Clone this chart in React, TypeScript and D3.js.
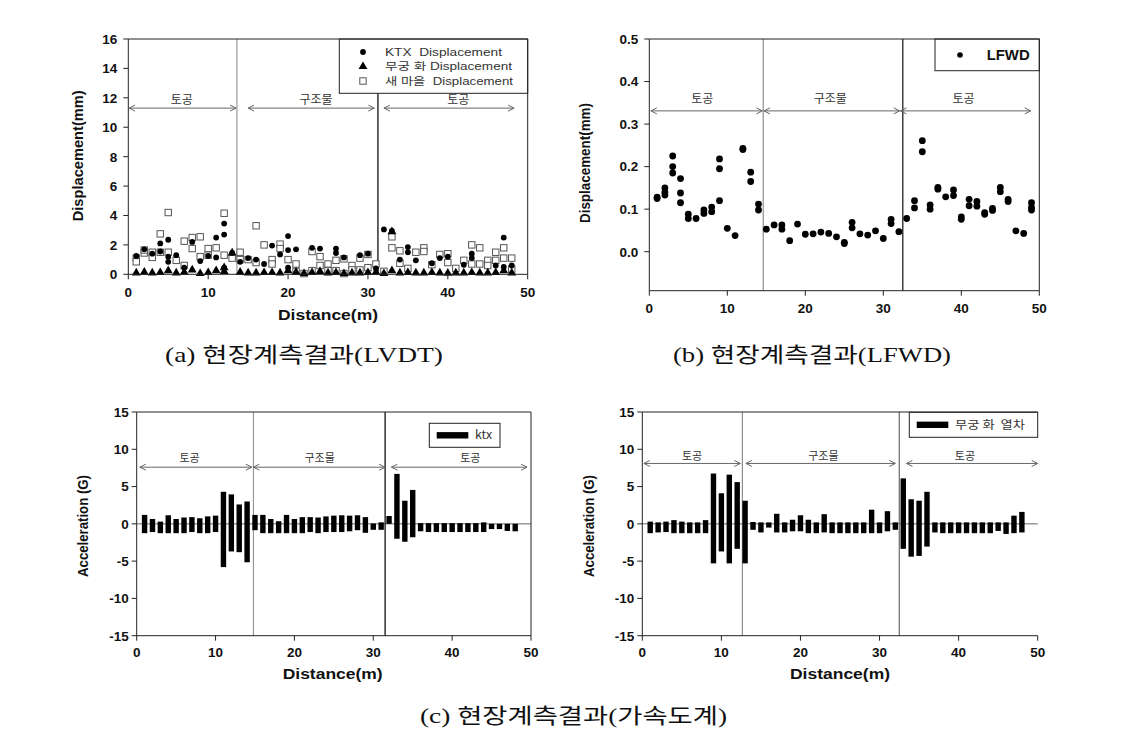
import React from "react";
import * as d3 from "d3";

// ---------- DATA ----------
const distanceTicks = [0, 10, 20, 30, 40, 50];
const dispTicks = [0, 2, 4, 6, 8, 10, 12, 14, 16];
const lfwdTicks = [0.0, 0.1, 0.2, 0.3, 0.4, 0.5];
const accelTicks = [-15, -10, -5, 0, 5, 10, 15];

// (a) LVDT displacement, [distance(m), displacement(mm)]
const ktxDisp: [number, number][] = [
  [1, 1.25], [2, 1.7], [3, 1.4], [4, 2.1], [4, 1.55], [5, 2.35], [5, 1.2], [5, 0.85], [6, 1.3], [7, 0.45],
  [8, 2.2], [9, 0.9], [10, 1.25], [11, 2.5], [11, 1.15], [12, 3.45], [12, 2.7], [12, 0.45], [13, 1.45],
  [14, 0.85], [15, 1.1], [16, 1.0], [17, 0.7], [18, 1.95], [19, 1.35], [20, 2.6], [20, 1.65], [20, 0.45],
  [21, 1.7], [23, 1.8], [24, 1.75], [26, 1.75], [26, 1.45], [27, 1.15], [29, 1.3], [30, 1.4], [31, 0.4],
  [32, 3.05], [33, 2.95], [34, 1.0], [35, 1.85], [35, 1.5], [36, 0.95], [38, 0.75], [39, 1.1], [40, 1.2],
  [42, 0.65], [43, 1.4], [43, 1.1], [46, 0.6], [47, 2.5], [47, 0.5], [48, 0.6],
];
const mugunghwaDisp: [number, number][] = [
  [1, 0.1], [2, 0.15], [3, 0.1], [4, 0.12], [5, 0.25], [6, 0.1], [7, 0.15], [8, 0.3], [9, 0.05], [10, 0.12],
  [11, 0.25], [12, 0.45], [12, 0.2], [13, 1.45], [14, 0.15], [15, 0.1], [16, 0.1], [17, 0.12], [18, 0.12],
  [19, 0.1], [20, 0.25], [21, 0.15], [22, 0.05], [23, 0.12], [24, 0.2], [25, 0.1], [26, 0.12], [27, 0.05],
  [28, 0.1], [29, 0.1], [30, 0.12], [31, 0.15], [32, 0.05], [33, 2.9], [33, 0.25], [34, 0.1], [35, 0.12],
  [36, 0.1], [37, 0.1], [38, 0.12], [39, 0.1], [40, 0.08], [41, 0.1], [42, 0.1], [43, 0.12], [44, 0.1],
  [45, 0.1], [46, 0.12], [47, 0.25], [48, 0.1],
];
const saemaeulDisp: [number, number][] = [
  [1, 1.1], [1, 0.85], [2, 1.45], [2, 1.65], [3, 1.5], [3, 1.15], [4, 2.75], [4, 1.5], [5, 4.2], [5, 1.5],
  [6, 0.95], [7, 2.25], [7, 0.6], [8, 2.5], [8, 1.75], [9, 2.55], [9, 1.2], [10, 1.75], [10, 1.3], [11, 1.8],
  [12, 4.15], [12, 1.3], [13, 1.1], [14, 1.5], [14, 1.0], [15, 1.0], [16, 3.3], [16, 0.8], [17, 2.0],
  [18, 1.0], [18, 0.7], [19, 2.05], [19, 1.75], [20, 1.0], [21, 0.7], [21, 0.2], [22, 0.05], [23, 1.55],
  [23, 0.25], [24, 1.2], [24, 0.6], [25, 0.7], [25, 0.25], [26, 0.95], [26, 0.25], [27, 1.05], [27, 0.05],
  [28, 0.6], [28, 0.3], [29, 1.1], [29, 0.3], [30, 1.35], [30, 0.45], [31, 0.7], [32, 0.2], [33, 2.55],
  [33, 1.8], [34, 1.6], [34, 0.75], [35, 0.4], [36, 1.5], [37, 1.8], [37, 1.55], [38, 0.65], [39, 1.35],
  [40, 1.4], [40, 0.8], [41, 0.4], [42, 0.95], [43, 2.0], [43, 0.7], [44, 1.8], [44, 0.7], [45, 0.95],
  [45, 0.6], [46, 1.5], [46, 0.95], [47, 1.8], [47, 1.1], [48, 1.1], [48, 0.35],
];

// (b) LFWD displacement, [distance(m), displacement(mm)]
const lfwdDisp: [number, number][] = [
  [1, 0.128], [1, 0.125], [2, 0.15], [2, 0.14], [2, 0.133], [3, 0.225], [3, 0.2], [3, 0.185],
  [4, 0.172], [4, 0.138], [4, 0.115], [5, 0.088], [5, 0.078], [6, 0.078], [7, 0.098], [7, 0.09],
  [8, 0.105], [8, 0.094], [9, 0.218], [9, 0.195], [9, 0.12], [10, 0.055], [11, 0.038], [12, 0.243],
  [12, 0.24], [13, 0.187], [13, 0.165], [14, 0.112], [14, 0.098], [15, 0.053], [16, 0.063], [17, 0.063],
  [17, 0.053], [18, 0.026], [19, 0.065], [20, 0.041], [21, 0.042], [22, 0.046], [23, 0.043], [24, 0.035],
  [25, 0.022], [25, 0.019], [26, 0.069], [26, 0.056], [27, 0.042], [28, 0.039], [29, 0.049], [30, 0.031],
  [31, 0.076], [31, 0.066], [32, 0.047], [33, 0.078], [34, 0.12], [34, 0.103], [35, 0.261], [35, 0.235],
  [36, 0.11], [36, 0.1], [37, 0.151], [37, 0.147], [38, 0.129], [39, 0.145], [39, 0.132], [40, 0.082],
  [40, 0.076], [41, 0.123], [41, 0.108], [42, 0.118], [42, 0.107], [43, 0.092], [43, 0.088], [44, 0.102],
  [44, 0.097], [45, 0.151], [45, 0.141], [46, 0.123], [46, 0.118], [47, 0.049], [48, 0.043], [49, 0.115],
  [49, 0.104], [49, 0.098],
];

// (c) acceleration range per measuring point
const accelDistances = [
  1, 2, 3, 4, 5, 6, 7, 8, 9, 10, 11, 12, 13, 14, 15, 16, 17, 18, 19, 20, 21, 22, 23, 24,
  25, 26, 27, 28, 29, 30, 31, 32, 33, 34, 35, 36, 37, 38, 39, 40, 41, 42, 43, 44, 45, 46, 47, 48,
];
const ktxAccMax = [
  1.2, 0.65, 0.3, 1.15, 0.65, 0.85, 0.9, 0.75, 1.0, 1.1, 4.3, 3.95, 2.6, 3.0, 1.2, 1.2, 0.65, 0.35, 1.2, 0.65,
  0.9, 0.9, 0.85, 1.0, 1.1, 1.15, 1.1, 1.15, 0.9, 0.05, 0.2, 1.05, 6.7, 3.1, 4.55, 0.1, 0.1, 0.1, 0.1, 0.1,
  0.1, 0.1, 0.1, 0.2, 0, 0, 0, 0,
];
const ktxAccMin = [
  -1.25, -1.1, -1.25, -1.25, -1.25, -1.25, -1.1, -1.25, -1.25, -1.1, -5.8, -3.7, -3.8, -5.15, -0.85, -1.25,
  -1.25, -1.25, -1.25, -1.25, -1.25, -1.1, -1.25, -1.1, -1.1, -1.1, -1.0, -0.85, -1.2, -0.8, -0.8, 0, -2.0,
  -2.4, -1.8, -1.0, -1.1, -1.1, -1.1, -1.1, -1.1, -1.1, -1.1, -1.1, -0.7, -0.7, -0.95, -1.0,
];
const mugAccMax = [
  0.3, 0.2, 0.3, 0.5, 0.3, 0.2, 0.2, 0.5, 6.75, 4.1, 6.6, 5.6, 3.1, 0.25, 0.2, 0.2, 1.35, 0.2, 0.55, 1.15,
  0.55, 0.2, 1.3, 0.2, 0.2, 0.2, 0.2, 0.2, 1.9, 0.2, 1.7, 0.2, 6.1, 3.3, 3.1, 4.3, 0.2, 0.2, 0.2, 0.2, 0.2,
  0.2, 0.2, 0.2, 0.2, 0.2, 1.1, 1.6,
];
const mugAccMin = [
  -1.25, -1.15, -1.1, -1.25, -1.25, -1.25, -1.25, -1.25, -5.3, -3.7, -5.3, -3.35, -5.3, -0.8, -1.15, -0.5,
  -1.15, -1.15, -1.0, -1.0, -1.25, -1.25, -1.15, -1.25, -1.25, -1.25, -1.25, -1.25, -1.25, -1.25, -1.0, -0.8,
  -3.35, -4.4, -4.3, -3.05, -1.15, -1.25, -1.25, -1.25, -1.25, -1.25, -1.25, -1.25, -0.95, -1.35, -1.25, -1.15,
];

const sectionLabels = ["토공", "구조물", "토공"];
const lvdtLegend = ["KTX  Displacement", "무궁 화 Displacement", "새 마을  Displacement"];

// ---------- STYLE ----------
const SANS = "'Liberation Sans', Arial, 'Noto Sans CJK KR', sans-serif";
const KSANS = "'Noto Sans CJK KR', 'Liberation Sans', sans-serif";
const SERIF = "'Liberation Serif', 'DejaVu Serif', 'Noto Sans CJK KR', serif";

type Lin = d3.ScaleLinear<number, number>;

function Frame({ x, y, right = true }: { x: Lin; y: Lin; right?: boolean }) {
  const [x0, x1] = x.range();
  const [yb, yt] = y.range();
  return (
    <g fill="none" stroke="#222" strokeWidth={1}>
      <line x1={x0} x2={x1} y1={yt} y2={yt} />
      {right && <line x1={x1} x2={x1} y1={yt} y2={yb} />}
      <line x1={x0} x2={x0} y1={yt} y2={yb} />
      <line x1={x0} x2={x1} y1={yb} y2={yb} />
    </g>
  );
}

function YAxis({ x, y, ticks, fmt, gap }: { x: Lin; y: Lin; ticks: number[]; fmt: (v: number) => string; gap: number }) {
  const x0 = x.range()[0];
  return (
    <g>
      {ticks.map((t) => (
        <g key={t}>
          <line x1={x0 - 5} x2={x0} y1={y(t)} y2={y(t)} stroke="#222" />
          <text x={x0 - gap} y={y(t)} dy="0.36em" textAnchor="end" fontFamily={SANS} fontWeight="bold" fontSize={13.5} fill="#111">
            {fmt(t)}
          </text>
        </g>
      ))}
    </g>
  );
}

function XAxis({ x, y, ticks, labelY }: { x: Lin; y: Lin; ticks: number[]; labelY: number }) {
  const yb = y.range()[0];
  return (
    <g>
      {ticks.map((t) => (
        <g key={t}>
          <line x1={x(t)} x2={x(t)} y1={yb} y2={yb + 5} stroke="#222" />
          <text x={x(t)} y={labelY} textAnchor="middle" fontFamily={SANS} fontWeight="bold" fontSize={13.5} fill="#111">
            {t}
          </text>
        </g>
      ))}
    </g>
  );
}

function Sections({ x, arrowY, labelY, spans, centers, fontSize }: { x: Lin; arrowY: number; labelY: number; spans: [number, number][]; centers: number[]; fontSize: number }) {
  return (
    <g>
      {spans.map(([a, b], i) => {
        const xa = x(a);
        const xb = x(b);
        return (
          <g key={i}>
            <path
              d={`M${xa},${arrowY}H${xb}M${xa + 6},${arrowY - 3}L${xa},${arrowY}L${xa + 6},${arrowY + 3}M${xb - 6},${arrowY - 3}L${xb},${arrowY}L${xb - 6},${arrowY + 3}`}
              fill="none"
              stroke="#666"
              strokeWidth={1}
            />
            <text x={x(centers[i])} y={labelY} dy="0.36em" textAnchor="middle" fontFamily={KSANS} fontSize={fontSize} fill="#333">
              {sectionLabels[i]}
            </text>
          </g>
        );
      })}
    </g>
  );
}

function Dividers({ x, y, at, colors }: { x: Lin; y: Lin; at: number[]; colors: string[] }) {
  const [yb, yt] = y.range();
  return (
    <g>
      {at.map((d, i) => (
        <line key={i} x1={x(d)} x2={x(d)} y1={yt} y2={yb} stroke={colors[i]} strokeWidth={i === 1 ? 1.3 : 1} />
      ))}
    </g>
  );
}

function YTitle({ x, cy, text, len, size }: { x: number; cy: number; text: string; len: number; size: number }) {
  return (
    <text
      transform={`translate(${x},${cy}) rotate(-90)`}
      x={-len / 2}
      dy="0.36em"
      fontFamily={SANS}
      fontWeight="bold"
      fontSize={size}
      fill="#111"
      textLength={len}
      lengthAdjust="spacingAndGlyphs"
    >
      {text}
    </text>
  );
}

function XTitle({ cx, y, text, len }: { cx: number; y: number; text: string; len: number }) {
  return (
    <text
      x={cx - len / 2}
      y={y}
      fontFamily={SANS}
      fontWeight="bold"
      fontSize={14}
      fill="#111"
      textLength={len}
      lengthAdjust="spacingAndGlyphs"
    >
      {text}
    </text>
  );
}

function Caption({ x0, len, y, text }: { x0: number; len: number; y: number; text: string }) {
  return (
    <text x={x0} y={y} fontFamily={SERIF} fontSize={21} fill="#111" textLength={len} lengthAdjust="spacingAndGlyphs">
      {text}
    </text>
  );
}

const tri = d3.symbol().type(d3.symbolTriangle).size(34)();

function PanelA() {
  const x = d3.scaleLinear().domain([0, 50]).range([128.3, 527.7]);
  const y = d3.scaleLinear().domain([0, 16]).range([274.3, 39]);
  const rows = [52, 66.5, 81];
  const lens = [117, 127, 128];
  return (
    <g>
      <Dividers x={x} y={y} at={[13.6, 31.25]} colors={["#888", "#111"]} />
      <Sections x={x} arrowY={y(11.3)} labelY={100} spans={[[0.1, 13.5], [15, 30.8], [32, 48.3]]} centers={[6.7, 23.5, 41.3]} fontSize={12} />
      {saemaeulDisp.map(([d, v], i) => (
        <rect key={"s" + i} x={x(d) - 3.2} y={y(v) - 3.2} width={6.4} height={6.4} fill="white" stroke="#555" strokeWidth={1} />
      ))}
      {ktxDisp.map(([d, v], i) => (
        <circle key={"k" + i} cx={x(d)} cy={y(v)} r={2.9} fill="#000" />
      ))}
      {mugunghwaDisp.map(([d, v], i) => (
        <path key={"m" + i} d={tri as string} transform={`translate(${x(d)},${y(v)})`} fill="#000" />
      ))}
      <rect x={339.3} y={39} width={188.4} height={54.3} fill="white" stroke="#222" />
      <circle cx={363} cy={rows[0]} r={2.9} fill="#000" />
      <path d={tri as string} transform={`translate(363,${rows[1]})`} fill="#000" />
      <rect x={359.8} y={rows[2] - 3.2} width={6.4} height={6.4} fill="white" stroke="#555" />
      {lvdtLegend.map((t, i) => (
        <text
          key={t}
          x={385}
          y={rows[i] + 3.7}
          fontFamily={SANS}
          fontSize={10.5}
          fill="#333"
          textLength={lens[i]}
          lengthAdjust="spacingAndGlyphs"
          style={{ whiteSpace: "pre" }}
        >
          {t}
        </text>
      ))}
      <Frame x={x} y={y} />
      <YAxis x={x} y={y} ticks={dispTicks} fmt={(v) => String(v)} gap={11} />
      <XAxis x={x} y={y} ticks={distanceTicks} labelY={296.5} />
      <YTitle x={78} cy={155.8} text="Displacement(mm)" len={131} size={15} />
      <XTitle cx={328} y={320} text="Distance(m)" len={100} />
    </g>
  );
}

function PanelB() {
  const x = d3.scaleLinear().domain([0, 50]).range([649.3, 1039.3]);
  const y = d3.scaleLinear().domain([-0.0917, 0.5]).range([290.7, 39]);
  return (
    <g>
      <Dividers x={x} y={y} at={[14.6, 32.5]} colors={["#777", "#222"]} />
      <Sections x={x} arrowY={y(0.331)} labelY={99} spans={[[0.2, 14.5], [14.7, 32.1], [32.2, 48.9]]} centers={[6.8, 23.2, 40.3]} fontSize={12} />
      {lfwdDisp.map(([d, v], i) => (
        <circle key={i} cx={x(d)} cy={y(v)} r={3.4} fill="#000" />
      ))}
      <rect x={935} y={39} width={104.3} height={31.7} fill="white" stroke="#222" />
      <circle cx={960} cy={55} r={2.8} fill="#000" />
      <text x={986.7} y={55} dy="0.36em" fontFamily={SANS} fontWeight="bold" fontSize={14} fill="#111" textLength={43} lengthAdjust="spacingAndGlyphs">
        LFWD
      </text>
      <Frame x={x} y={y} />
      <YAxis x={x} y={y} ticks={lfwdTicks} fmt={d3.format(".1f")} gap={11} />
      <XAxis x={x} y={y} ticks={distanceTicks} labelY={313} />
      <YTitle x={585} cy={163} text="Displacement(mm)" len={120} size={14} />
    </g>
  );
}

function PanelC({ xr, max, min, dividers, divColors, arrowVal, labelY, spans, centers, legendBox, legendText, legendLen, yTitleX, xTitleCx, right }: any) {
  const x = d3.scaleLinear().domain([0, 50]).range(xr);
  const y = d3.scaleLinear().domain([-15, 15]).range([635.7, 412]);
  const bw = 5.4;
  const [lx, ly, lw, lh] = legendBox;
  return (
    <g>
      <line x1={xr[0]} x2={xr[1]} y1={y(0)} y2={y(0)} stroke="#666" strokeWidth={1} />
      <Dividers x={x} y={y} at={dividers} colors={divColors} />
      <Sections x={x} arrowY={y(arrowVal)} labelY={labelY} spans={spans} centers={centers} fontSize={11} />
      {accelDistances.map((d, i) => {
        const top = y(max[i]);
        const bot = y(min[i]);
        return <rect key={d} x={x(d) - bw / 2} y={top} width={bw} height={Math.max(bot - top, 0.5)} fill="#000" />;
      })}
      <rect x={lx} y={ly} width={lw} height={lh} fill="white" stroke="#222" />
      <rect x={lx + 7.4} y={ly + lh / 2 - 3.2} width={31.6} height={6.4} fill="#000" />
      <text
        x={lx + 45.7}
        y={ly + lh / 2 + 4}
        fontFamily={KSANS}
        fontSize={11.5}
        fill="#333"
        textLength={legendLen}
        lengthAdjust="spacingAndGlyphs"
        style={{ whiteSpace: "pre" }}
      >
        {legendText}
      </text>
      <Frame x={x} y={y} right={right} />
      <YAxis x={x} y={y} ticks={accelTicks} fmt={(v) => String(v)} gap={8} />
      <XAxis x={x} y={y} ticks={distanceTicks} labelY={657} />
      <YTitle x={yTitleX} cy={526} text="Acceleration (G)" len={102} size={15} />
      <XTitle cx={xTitleCx} y={679} text="Distance(m)" len={100} />
    </g>
  );
}

export default function App() {
  return (
    <svg
      width={1121}
      height={744}
      viewBox="0 0 1121 744"
      style={{ position: "absolute", left: 0, top: 0, display: "block", background: "white" }}
    >
      <rect width={1121} height={744} fill="white" />
      <PanelA />
      <PanelB />
      <PanelC
        xr={[136.7, 531]}
        max={ktxAccMax}
        min={ktxAccMin}
        dividers={[14.8, 31.5]}
        divColors={["#888", "#111"]}
        arrowVal={7.6}
        labelY={458}
        spans={[[0.4, 14.6], [14.8, 31.5], [32.3, 49.5]]}
        centers={[6.7, 23.2, 42.3]}
        legendBox={[429.3, 423.3, 70.7, 24]}
        legendText="ktx"
        legendLen={17}
        yTitleX={83}
        xTitleCx={332.7}
        right={true}
      />
      <PanelC
        xr={[642.3, 1037.7]}
        max={mugAccMax}
        min={mugAccMin}
        dividers={[12.65, 32.5]}
        divColors={["#777", "#777"]}
        arrowVal={8.1}
        labelY={455.7}
        spans={[[0.2, 12.4], [13.1, 32], [33.4, 50]]}
        centers={[6.3, 22.9, 40.8]}
        legendBox={[909.3, 412.3, 128.4, 25]}
        legendText="무궁 화  열차"
        legendLen={70}
        yTitleX={589}
        xTitleCx={840}
        right={false}
      />
      <Caption x0={165} len={278} y={362} text="(a) 현장계측결과(LVDT)" />
      <Caption x0={673} len={278} y={362} text="(b) 현장계측결과(LFWD)" />
      <Caption x0={420} len={307} y={723} text="(c) 현장계측결과(가속도계)" />
    </svg>
  );
}
